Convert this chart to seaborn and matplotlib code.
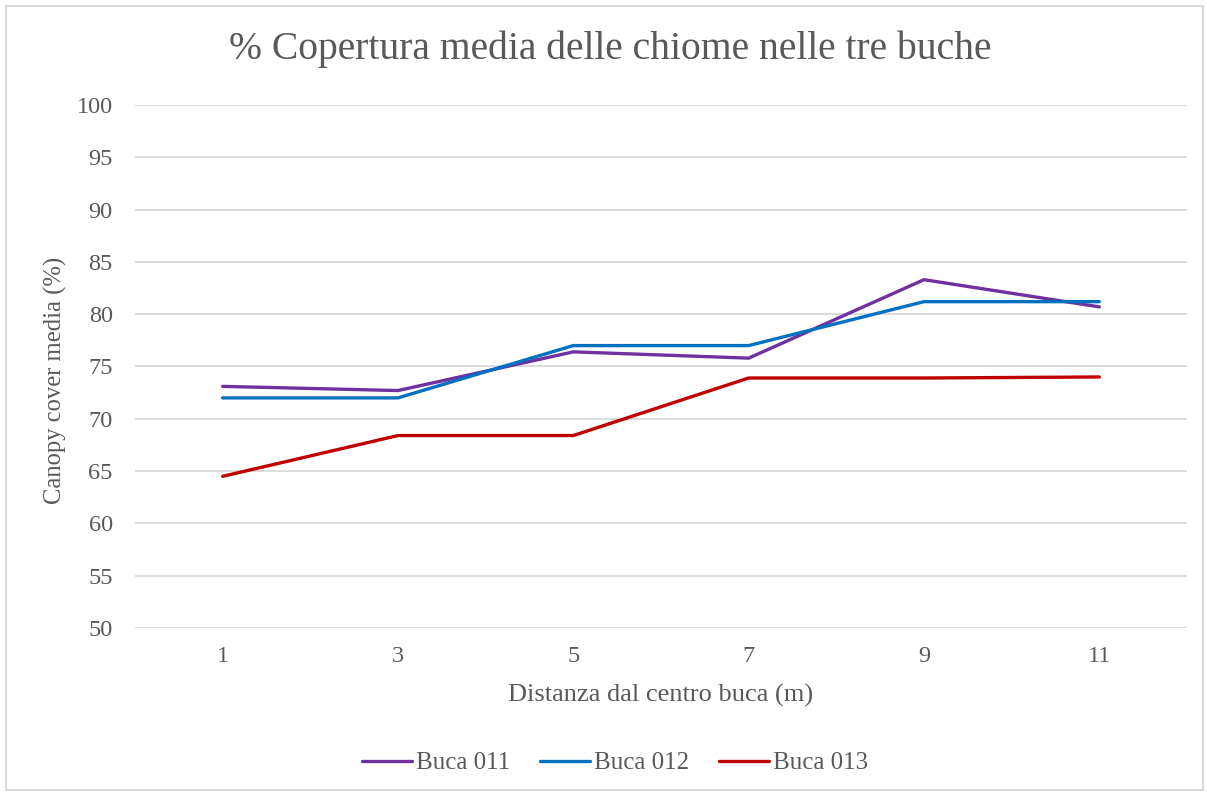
import matplotlib
matplotlib.use("Agg")
import matplotlib.pyplot as plt
import seaborn as sns
import pandas as pd
from matplotlib.patches import Rectangle
from matplotlib.lines import Line2D

distances = [1, 3, 5, 7, 9, 11]
buca_011 = [73.1, 72.7, 76.4, 75.8, 83.3, 80.7]
buca_012 = [72.0, 72.0, 77.0, 77.0, 81.2, 81.2]
buca_013 = [64.5, 68.4, 68.4, 73.9, 73.9, 74.0]
series_names = ["Buca 011", "Buca 012", "Buca 013"]
y_ticks = [50, 55, 60, 65, 70, 75, 80, 85, 90, 95, 100]

sns.set_theme(style="white")
plt.rcParams["font.family"] = ["Liberation Serif", "DejaVu Serif"]

df = pd.DataFrame({
    "dist": distances * 3,
    "val": buca_011 + buca_012 + buca_013,
    "serie": [series_names[0]] * 6 + [series_names[1]] * 6 + [series_names[2]] * 6,
})

W, H = 1207, 794
fig = plt.figure(figsize=(W / 100, H / 100), dpi=100)
fig.patch.set_facecolor("white")
fig.patches.append(Rectangle((6 / W, 4 / H), (1203 - 6) / W, (788 - 4) / H,
                             transform=fig.transFigure, fill=False,
                             edgecolor="#D9D9D9", linewidth=1.5))
ax = fig.add_axes([135 / W, 1 - 628 / H, (1187 - 135) / W, (628 - 105) / H])

palette = {"Buca 011": "#7030A0", "Buca 012": "#0070C0", "Buca 013": "#C00000"}
sns.lineplot(data=df, x="dist", y="val", hue="serie", palette=palette,
             linewidth=2.4, ax=ax, legend=False, zorder=3)

ax.set_xlim(0, 12)
ax.set_ylim(50, 100)
ax.set_yticks(y_ticks)
ax.set_xticks(distances)
ax.set_xticklabels([str(d) for d in distances])
ax.grid(axis="y", color="#D9D9D9", linewidth=1.3, zorder=0)
ax.grid(axis="x", visible=False)
for s in ax.spines.values():
    s.set_visible(False)
ax.tick_params(axis="both", length=0, labelsize=17.5, colors="#595959")
ax.tick_params(axis="x", pad=13)
ax.tick_params(axis="y", pad=16)
ax.set_xlabel("Distanza dal centro buca (m)", fontsize=19, color="#595959", labelpad=12)
ax.set_ylabel("Canopy cover media (%)", fontsize=17.7, color="#595959")
ax.yaxis.set_label_coords(-0.0646, 0.474)

fig.text(610 / W, 1 - 49 / H, "% Copertura media delle chiome nelle tre buche",
         ha="center", va="center", fontsize=28.5, color="#595959")

handles = [Line2D([0], [0], color=palette[n], linewidth=2.4) for n in series_names]
fig.legend(handles, series_names, loc="center", bbox_to_anchor=(615 / W, 1 - 763 / H),
           ncol=3, frameon=False, fontsize=18, handlelength=2, columnspacing=1.2,
           handletextpad=0.15, labelcolor="#595959")

fig.savefig("out.png", dpi=100)
